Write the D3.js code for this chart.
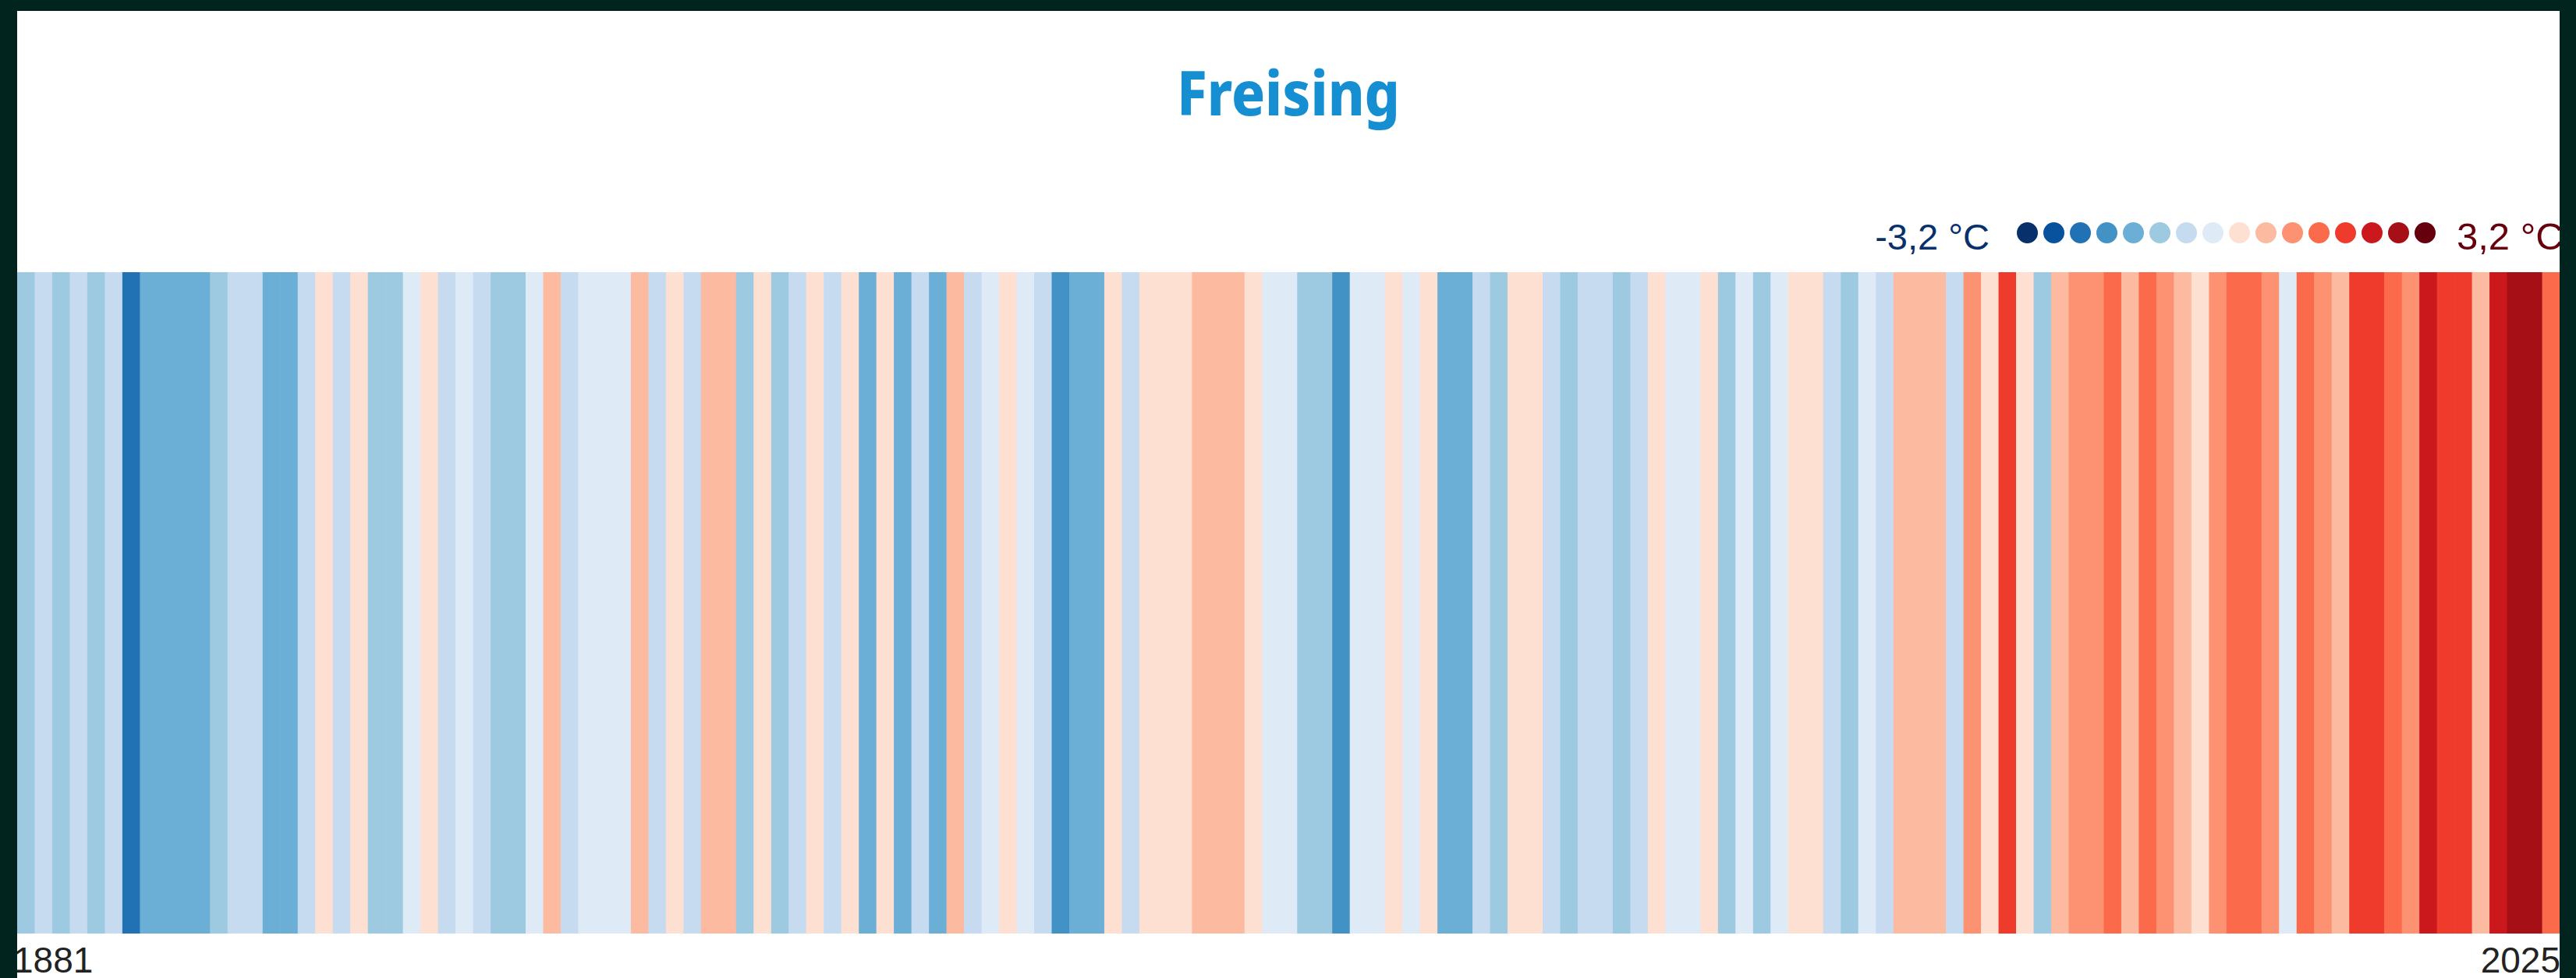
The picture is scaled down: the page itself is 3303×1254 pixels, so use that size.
<!DOCTYPE html>
<html>
<head>
<meta charset="utf-8">
<script src="https://cdn.jsdelivr.net/npm/d3@7"></script>
<style>
  html, body { margin: 0; padding: 0; background: #02241f; }
  svg { display: block; }
</style>
</head>
<body>
<svg id="chart"></svg>
<script>
// Jahresmittel-Abweichung (°C) Freising, 1881-2025
const firstYear = 1881;
const lastYear = 2025;
const years = d3.range(firstYear, lastYear + 1);
const anomalies = [
  -0.9, -0.6, -1.1, -0.5, -1.0, -0.7, -2.2, -1.4, -1.3, -1.5,
  -1.3, -1.0, -0.6, -0.5, -1.4, -1.3, -0.7,  0.2, -0.6,  0.1,
  -1.1, -0.9, -0.3,  0.1, -0.5, -0.2, -0.6, -1.0, -0.9, -0.3,
   0.5, -0.7, -0.2, -0.1, -0.3,  0.6, -0.5,  0.2, -0.6,  0.7,
   0.5, -1.0,  0.3, -0.9, -0.6,  0.1, -0.7,  0.2, -1.3,  0.1,
  -1.4, -0.5, -1.3,  0.6, -0.6, -0.2,  0.1, -0.3, -0.5, -1.8,
  -1.5, -1.3,  0.2, -0.6,  0.1,  0.3,  0.2,  0.5,  0.7,  0.6,
   0.3, -0.1, -0.2, -1.0, -0.9, -1.7, -0.3, -0.1,  0.2, -0.2,
   0.3, -1.3, -1.4, -0.5, -1.1,  0.1,  0.2, -0.6, -0.9, -0.7,
  -0.5, -1.0, -0.6,  0.3, -0.2, -0.1,  0.2, -0.9, -0.3, -1.0,
  -0.2,  0.1,  0.3, -0.7, -1.1, -0.1, -0.5,  0.6,  0.5,  0.7,
  -0.6,  0.9,  0.3,  1.8,  0.2, -0.9,  0.6,  1.0,  1.1,  1.4,
   0.7,  1.3,  1.0,  0.5,  0.2,  0.9,  1.4,  1.5,  1.1, -0.3,
   1.3,  1.0,  0.7,  1.8,  1.9,  1.4,  0.9,  2.2,  1.7,  1.8,
   0.6,  2.1,  2.5,  2.7,  1.5
];
const stripeColors = [
  '#08306b', '#08519c', '#2171b5', '#4292c6', '#6baed6', '#9ecae1', '#c6dbef', '#deebf7',
  '#fee0d2', '#fcbba1', '#fc9272', '#fb6a4a', '#ef3b2c', '#cb181d', '#a50f15', '#67000d'
];
const legendDomain = [-3.2, 3.2];
const title = 'Freising';

const W = 3303, H = 1254;
const panel = { x: 22, y: 14, w: 3260, h: 1300 };
const stripeTop = 349, stripeBottom = 1197;

const svg = d3.select('#chart').attr('width', W).attr('height', H);

svg.append('defs').append('clipPath').attr('id', 'panel-clip')
  .append('rect')
  .attr('x', panel.x).attr('y', panel.y)
  .attr('width', panel.w).attr('height', panel.h);

// weisses Feld
svg.append('rect')
  .attr('x', panel.x).attr('y', panel.y)
  .attr('width', panel.w).attr('height', panel.h)
  .attr('fill', '#ffffff');

const g = svg.append('g').attr('clip-path', 'url(#panel-clip)');

// Skalen
const x = d3.scaleBand()
  .domain(years)
  .range([panel.x, panel.x + panel.w])
  .padding(0);

const color = d3.scaleQuantize()
  .domain(legendDomain)
  .range(stripeColors);

// Streifen
g.selectAll('rect.stripe')
  .data(years.map((yr, i) => ({ year: yr, value: anomalies[i] })))
  .enter()
  .append('rect')
  .attr('class', 'stripe')
  .attr('x', d => x(d.year))
  .attr('y', stripeTop)
  .attr('width', x.bandwidth() + 0.6)
  .attr('height', stripeBottom - stripeTop)
  .attr('fill', d => color(d.value));

// Titel
g.append('text')
  .attr('x', panel.x + panel.w / 2)
  .attr('y', 148)
  .attr('text-anchor', 'middle')
  .attr('font-family', '"Noto Sans", sans-serif')
  .attr('font-weight', 800)
  .attr('font-size', 78)
  .attr('textLength', 286)
  .attr('lengthAdjust', 'spacingAndGlyphs')
  .attr('fill', '#158fd2')
  .text(title);

// Legende
const fmt = d3.formatLocale({ decimal: ',', thousands: '.', grouping: [3], currency: ['', ' €'], minus: '-' }).format('.1f');

const lx = d3.scaleBand()
  .domain(d3.range(stripeColors.length))
  .range([2582.5, 3126.5]);

g.selectAll('circle.legend-dot')
  .data(stripeColors)
  .enter()
  .append('circle')
  .attr('class', 'legend-dot')
  .attr('cx', (d, i) => lx(i) + lx.bandwidth() / 2)
  .attr('cy', 298.5)
  .attr('r', 13.5)
  .attr('fill', d => d);

g.append('text')
  .attr('x', 2551)
  .attr('y', 320)
  .attr('text-anchor', 'end')
  .attr('font-family', '"Liberation Sans", Arial, sans-serif')
  .attr('font-size', 47)
  .attr('fill', stripeColors[0])
  .text(fmt(legendDomain[0]) + ' \u00b0C');

g.append('text')
  .attr('x', 3150)
  .attr('y', 320)
  .attr('text-anchor', 'start')
  .attr('font-family', '"Liberation Sans", Arial, sans-serif')
  .attr('font-size', 49)
  .attr('fill', stripeColors[stripeColors.length - 1])
  .text(fmt(legendDomain[1]) + ' \u00b0C');

// Jahreszahlen
g.append('text')
  .attr('x', panel.x - 5)
  .attr('y', 1247)
  .attr('font-family', '"Liberation Sans", Arial, sans-serif')
  .attr('font-size', 46)
  .attr('fill', '#222222')
  .text(firstYear);

g.append('text')
  .attr('x', panel.x + panel.w + 1)
  .attr('y', 1247)
  .attr('text-anchor', 'end')
  .attr('font-family', '"Liberation Sans", Arial, sans-serif')
  .attr('font-size', 46)
  .attr('fill', '#222222')
  .text(lastYear);
</script>
</body>
</html>
